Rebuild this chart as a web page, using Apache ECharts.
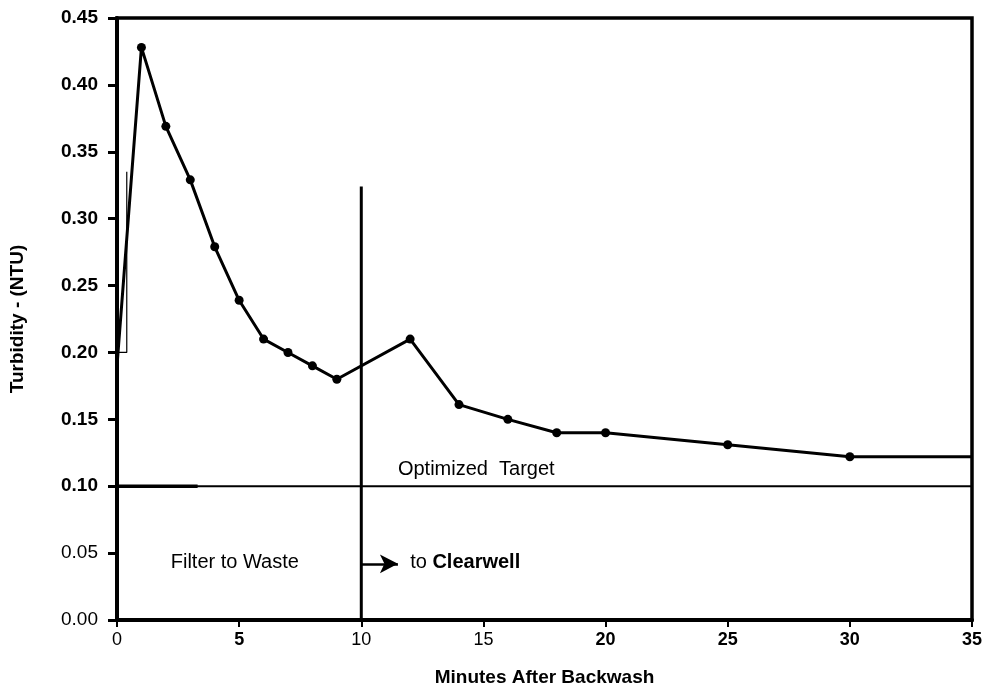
<!DOCTYPE html>
<html>
<head>
<meta charset="utf-8">
<script src="https://cdn.jsdelivr.net/npm/echarts@6/dist/echarts.min.js"></script>
<style>html,body{margin:0;padding:0;background:#fff}#c{width:987px;height:688px}</style>
</head>
<body>
<div id="c"></div>
<script>
// ---- data ----
const minutes = [0, 1, 2, 3, 4, 5, 6, 7, 8, 9, 12, 14, 16, 18, 20, 25, 30, 35];
const turbidity = [0.19, 0.428, 0.369, 0.329, 0.279, 0.239, 0.21, 0.2, 0.19, 0.18, 0.21, 0.161, 0.15, 0.14, 0.14, 0.131, 0.122, 0.122];
const targetLevel = 0.10;
const switchMinute = 10;
const switchLineTop = 0.324;
const arrowLevel = 0.042;
const xTicks = [0, 5, 10, 15, 20, 25, 30, 35];
const xBoldTicks = [5, 20, 25, 30, 35];
const yTicks = [0, 0.05, 0.10, 0.15, 0.20, 0.25, 0.30, 0.35, 0.40, 0.45];
const yBoldFrom = 0.10;
const annotations = {target: 'Optimized Target', waste: 'Filter to Waste', to: 'to ', clear: 'Clearwell'};

const FONT = '"Liberation Sans", Arial, sans-serif';
const chart = echarts.init(document.getElementById('c'));

const lineData = minutes.map((m, i) => {
  const item = {value: [m, turbidity[i]]};
  if (i === 0 || i === minutes.length - 1) item.symbol = 'none';
  return item;
});

const option = {
  animation: false,
  grid: {left: 117, right: 15, top: 18, bottom: 68, show: true, borderColor: '#000', borderWidth: 3.5,
         containLabel: false, outerBoundsMode: 'none'},
  xAxis: {
    type: 'value', min: 0, max: 35, interval: 5,
    axisLine: {lineStyle: {color: '#000', width: 4}},
    axisTick: {show: true, length: 7, lineStyle: {color: '#000', width: 2}},
    splitLine: {show: false},
    axisLabel: {
      margin: 11, fontFamily: FONT, fontSize: 18, color: '#000',
      formatter: v => (xBoldTicks.indexOf(v) >= 0 ? '{b|' + v + '}' : '{n|' + v + '}'),
      rich: {b: {fontWeight: 'bold', fontSize: 18, fontFamily: FONT}, n: {fontWeight: 'normal', fontSize: 18, fontFamily: FONT}}
    },
    name: 'Minutes After Backwash', nameLocation: 'middle', nameGap: 48,
    nameTextStyle: {fontFamily: FONT, fontSize: 19, fontWeight: 'bold', color: '#000'}
  },
  yAxis: {
    type: 'value', min: 0, max: 0.45, interval: 0.05,
    axisLine: {show: true, lineStyle: {color: '#000', width: 4}},
    axisTick: {show: true, length: 9, lineStyle: {color: '#000', width: 3}},
    splitLine: {show: false},
    axisLabel: {
      margin: 19, fontFamily: FONT, fontSize: 19, color: '#000',
      formatter: v => (v >= yBoldFrom - 1e-9 ? '{b|' + v.toFixed(2) + '}' : '{n|' + v.toFixed(2) + '}'),
      rich: {b: {fontWeight: 'bold', fontSize: 19, fontFamily: FONT}, n: {fontWeight: 'normal', fontSize: 19, fontFamily: FONT}}
    },
    name: 'Turbidity - (NTU)', nameLocation: 'middle', nameGap: 90, nameRotate: 90,
    nameTextStyle: {fontFamily: FONT, fontSize: 19, fontWeight: 'bold', color: '#000'}
  },
  series: [
    {
      type: 'line', data: lineData, symbol: 'circle', symbolSize: 9,
      itemStyle: {color: '#000'}, lineStyle: {color: '#000', width: 3}, z: 5
    },
    {
      type: 'line', data: [[0, targetLevel], [35, targetLevel]], symbol: 'none',
      lineStyle: {color: '#000', width: 2}
    },
    {
      type: 'line', data: [[0, targetLevel], [3.3, targetLevel]], symbol: 'none',
      lineStyle: {color: '#000', width: 3.5}
    },
    {
      type: 'line', data: [[switchMinute, 0], [switchMinute, switchLineTop]], symbol: 'none',
      lineStyle: {color: '#000', width: 3}
    },
    {
      type: 'line', data: [[0, 0.2], [0.4, 0.2], [0.4, 0.335]], symbol: 'none',
      lineStyle: {color: '#000', width: 1.2}
    },
    {
      type: 'line', data: [], symbol: 'none',
      markLine: {
        silent: true, symbol: ['none', 'arrow'], symbolSize: [14, 18],
        label: {show: false},
        lineStyle: {color: '#000', width: 2.5, type: 'solid'},
        data: [[{coord: [switchMinute, arrowLevel]}, {coord: [11.5, arrowLevel]}]]
      }
    }
  ]
};
chart.setOption(option);

function px(x, y) { return chart.convertToPixel({gridIndex: 0}, [x, y]); }
const pTarget = px(11.5, targetLevel);
const pWaste = px(2.2, arrowLevel);
const pTo = px(12.0, arrowLevel);
chart.setOption({
  graphic: [
    {type: 'text', left: pTarget[0], top: pTarget[1] - 27,
     style: {text: annotations.target.replace(' ', '  '), font: '20px ' + FONT, fill: '#000'}},
    {type: 'text', left: pWaste[0], top: pWaste[1] - 11,
     style: {text: annotations.waste, font: '20px ' + FONT, fill: '#000'}},
    {type: 'text', left: pTo[0], top: pTo[1] - 11,
     style: {text: '{n|' + annotations.to + '}{b|' + annotations.clear + '}', fill: '#000',
       rich: {n: {font: '20px ' + FONT}, b: {font: 'bold 20px ' + FONT}}}}
  ]
});
</script>
</body>
</html>
